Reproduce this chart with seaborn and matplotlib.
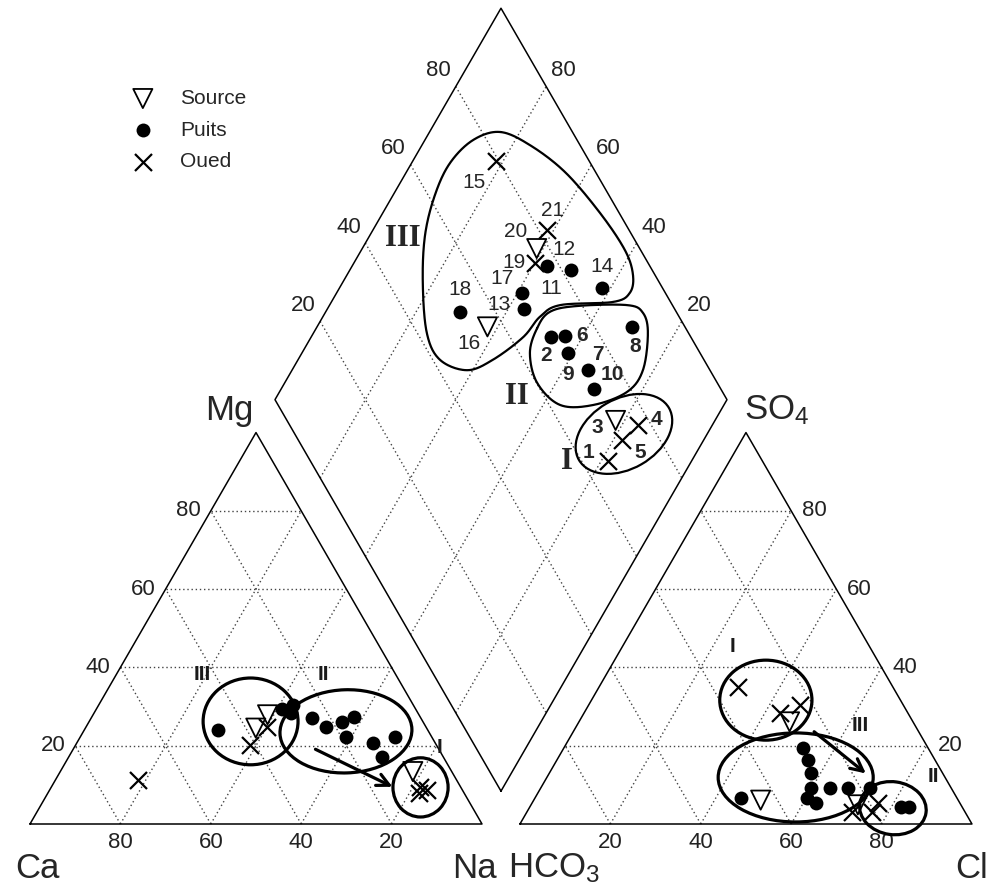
import numpy as np
import pandas as pd
import matplotlib
matplotlib.use("Agg")
import matplotlib.pyplot as plt
import seaborn as sns
from matplotlib.patches import Ellipse

sns.set_theme(style="white")
plt.rcParams["font.family"] = ["Liberation Sans", "DejaVu Sans"]
plt.rcParams["mathtext.default"] = "regular"

# ---------------- data (percent of meq) ----------------
sample_id = list(range(1, 22))
sample_type = ["Oued", "Puits", "Source", "Oued", "Oued", "Puits", "Puits", "Puits",
               "Puits", "Puits", "Puits", "Puits", "Puits", "Puits", "Oued", "Source",
               "Puits", "Puits", "Oued", "Source", "Oued"]
mg_pct = [9.5, 24.9, 13.4, 8.7, 8.0, 26.1, 20.6, 22.3, 22.3, 17.2, 30.4,
          27.0, 28.3, 27.4, 11.2, 24.5, 29.5, 24.0, 24.9, 27.9, 20.2]
na_pct = [81.5, 53.1, 78.0, 83.5, 82.0, 56.0, 65.5, 69.7, 58.8, 69.3, 43.0,
          48.8, 43.6, 58.0, 18.3, 37.7, 41.0, 29.6, 40.0, 38.6, 38.5]
so4_pct = [35.0, 9.1, 26.1, 30.4, 28.3, 19.4, 9.1, 4.4, 13.0, 16.4, 9.1,
           9.1, 6.6, 4.4, 3.0, 6.1, 5.3, 6.6, 3.0, 4.9, 5.3]
hco3_pct = [34.2, 31.0, 27.3, 22.9, 28.4, 27.7, 26.8, 11.7, 29.2, 28.0, 22.8,
            18.0, 33.3, 13.4, 20.6, 43.7, 31.8, 47.9, 25.0, 22.8, 18.2]
bold_ids = [1, 2, 3, 4, 5, 6, 7, 8, 9, 10]
tick_values = [20, 40, 60, 80]
legend_order = ["Source", "Puits", "Oued"]

# ---------------- geometry ----------------
G = 8.4                      # gap between triangles (data units, side = 100)
S = np.sqrt(3) / 2
PX = 4.52                    # pixels per data unit


def cat_xy(mg, na):
    mg = np.asarray(mg, float); na = np.asarray(na, float)
    return na + mg / 2, mg * S


def an_xy(so4, cl):
    so4 = np.asarray(so4, float); cl = np.asarray(cl, float)
    return 100 + G + cl + so4 / 2, so4 * S


def dia_xy(na, hco3):
    na = np.asarray(na, float); hco3 = np.asarray(hco3, float)
    t = 200 + G - hco3 - na
    return na + t / 2, S * t


df = pd.DataFrame({"id": sample_id, "type": sample_type, "Mg": mg_pct, "Na": na_pct,
                   "SO4": so4_pct, "HCO3": hco3_pct})
df["Ca"] = 100 - df["Mg"] - df["Na"]
df["Cl"] = 100 - df["SO4"] - df["HCO3"]
df["cx"], df["cy"] = cat_xy(df["Mg"], df["Na"])
df["ax"], df["ay"] = an_xy(df["SO4"], df["Cl"])
df["dx"], df["dy"] = dia_xy(df["Na"], df["HCO3"])

pts = pd.concat([
    df[["id", "type", "cx", "cy"]].rename(columns={"cx": "x", "cy": "y"}),
    df[["id", "type", "ax", "ay"]].rename(columns={"ax": "x", "ay": "y"}),
    df[["id", "type", "dx", "dy"]].rename(columns={"dx": "x", "dy": "y"}),
], ignore_index=True)

# ---------------- figure ----------------
fig = plt.figure(figsize=(9.92, 8.9), dpi=100)
ax = fig.add_axes([0, 0, 1, 1])
ax.set_xlim(-30 / PX, (992 - 30) / PX)
ax.set_ylim(-66 / PX, (890 - 66) / PX)
ax.axis("off")

grid_kw = dict(color="#444444", lw=1.0, ls=(0, (1, 2)), zorder=1)
edge_kw = dict(color="black", lw=1.1, zorder=2)

for v in tick_values:
    # cation triangle
    ax.plot([v / 2, 100 - v / 2], [v * S, v * S], **grid_kw)
    ax.plot([v, v + (100 - v) / 2], [0, (100 - v) * S], **grid_kw)
    ax.plot([100 - v, (100 - v) / 2], [0, (100 - v) * S], **grid_kw)
    # anion triangle
    o = 100 + G
    ax.plot([o + v / 2, o + 100 - v / 2], [v * S, v * S], **grid_kw)
    ax.plot([o + v, o + v + (100 - v) / 2], [0, (100 - v) * S], **grid_kw)
    ax.plot([o + 100 - v, o + (100 - v) / 2], [0, (100 - v) * S], **grid_kw)
    # diamond
    x1, y1 = dia_xy(v, 100); x2, y2 = dia_xy(v, 0)
    ax.plot([x1, x2], [y1, y2], **grid_kw)
    x1, y1 = dia_xy(0, v); x2, y2 = dia_xy(100, v)
    ax.plot([x1, x2], [y1, y2], **grid_kw)

ax.plot([0, 100, 50, 0], [0, 0, 100 * S, 0], **edge_kw)
ax.plot([100 + G, 200 + G, 150 + G, 100 + G], [0, 0, 100 * S, 0], **edge_kw)
dv = [dia_xy(100, 100), dia_xy(0, 100), dia_xy(0, 0), dia_xy(100, 0), dia_xy(100, 100)]
ax.plot([p[0] for p in dv], [p[1] for p in dv], **edge_kw)

# tick labels
tfs = 16
tcol = "#222222"
for v in tick_values:
    ax.text(100 - v, -19 / PX, str(v), ha="center", va="center", fontsize=tfs, color=tcol)
    ax.text(100 + G + v, -19 / PX, str(v), ha="center", va="center", fontsize=tfs, color=tcol)
    ax.annotate(str(v), (v / 2, v * S), xytext=(-10, 0), textcoords="offset pixels",
                ha="right", va="center", fontsize=tfs, color=tcol)
    ax.annotate(str(v), (200 + G - v / 2, v * S), xytext=(11, 0), textcoords="offset pixels",
                ha="left", va="center", fontsize=tfs, color=tcol)
    ax.annotate(str(v), dia_xy(0, 100 - v), xytext=(-17, 16), textcoords="offset pixels",
                ha="center", va="center", fontsize=tfs, color=tcol)
    ax.annotate(str(v), dia_xy(100 - v, 0), xytext=(17, 16), textcoords="offset pixels",
                ha="center", va="center", fontsize=tfs, color=tcol)

# axis names
afs = 25
ax.text(7 / PX, -44 / PX, "Ca", ha="center", va="center", fontsize=afs)
ax.text(100 - 8 / PX, -44 / PX, "Na", ha="center", va="center", fontsize=afs)
ax.text(100 + G - 12 / PX, -44 / PX, "HCO$_3$", ha="left", va="center", fontsize=afs)
ax.text(200 + G, -44 / PX, "Cl", ha="center", va="center", fontsize=afs)
ax.text(50 - 27 / PX, 100 * S + 22 / PX, "Mg", ha="center", va="center", fontsize=afs)
ax.text(150 + G - 2 / PX, 100 * S + 22 / PX, "SO$_4$", ha="left", va="center", fontsize=afs)

# ---------------- data markers (seaborn) ----------------
sub = pts[pts["type"] == "Puits"]
sns.scatterplot(data=sub, x="x", y="y", ax=ax, marker="o", s=100, color="black",
                edgecolor="black", linewidth=0, label="Puits", zorder=5, legend=False)
h_puits = ax.collections[-1]
sub = pts[pts["type"] == "Oued"]
sns.scatterplot(data=sub, x="x", y="y", ax=ax, marker="x", s=150, color="black",
                linewidth=1.6, label="Oued", zorder=5, legend=False)
h_oued = ax.collections[-1]
sub = pts[pts["type"] == "Source"]
sns.scatterplot(data=sub, x="x", y="y", ax=ax, marker="v", s=190, color="black",
                linewidth=1.3, label="Source", zorder=5, legend=False)
h_src = ax.collections[-1]
h_src.set_facecolor("none")
h_src.set_edgecolor("black")

handles = {"Source": h_src, "Puits": h_puits, "Oued": h_oued}
leg = ax.legend([handles[k] for k in legend_order], legend_order, loc="upper left",
                bbox_to_anchor=(122 / 992, 1 - 89 / 890), bbox_transform=fig.transFigure,
                frameon=False, fontsize=15, borderpad=0, borderaxespad=0,
                handlelength=2.0, handletextpad=0.8, labelspacing=0.6)

# sample numbers in diamond
lbl_off = {1: (-19, -9), 2: (-5, 18), 3: (-18, 7), 4: (18, -5), 5: (18, 12), 6: (17, 0),
           7: (9, -15), 8: (3, 20), 9: (0, 22), 10: (18, -15), 11: (5, 23), 12: (-7, -20),
           13: (-25, -5), 14: (0, -21), 15: (-22, 22), 16: (-18, 17), 17: (-20, -15),
           18: (0, -22), 19: (-21, 0), 20: (-21, -17), 21: (6, -20)}
for _, r in df.iterrows():
    i = int(r["id"])
    ox, oy = lbl_off[i]
    ax.annotate(str(i), (r["dx"], r["dy"]), xytext=(ox, -oy), textcoords="offset pixels",
                ha="center", va="center", fontsize=15,
                fontweight="bold" if i in bold_ids else "normal", zorder=6)


# ---------------- group envelopes ----------------
def closed_spline(p, n=24):
    p = np.asarray(p, float); N = len(p); out = []
    t = np.linspace(0, 1, n, endpoint=False)[:, None]
    for i in range(N):
        p0, p1, p2, p3 = p[(i - 1) % N], p[i], p[(i + 1) % N], p[(i + 2) % N]
        out.append(0.5 * (2 * p1 + (-p0 + p2) * t + (2 * p0 - 5 * p1 + 4 * p2 - p3) * t ** 2
                          + (-p0 + 3 * p1 - 3 * p2 + p3) * t ** 3))
    out = np.vstack(out)
    return np.vstack([out, out[:1]])


env3 = [(104.0, 153.1), (98.0, 151.3), (92.9, 146.2), (89.6, 139.2), (87.4, 130.3),
        (86.9, 119.7), (87.8, 108.6), (90.7, 102.7), (96.7, 100.4), (102.4, 102.7),
        (109.1, 107.7), (112.8, 112.2), (117.3, 114.8), (129.0, 115.5), (132.7, 117.5),
        (133.4, 121.5), (131.6, 127.0), (126.1, 135.2), (118.4, 144.2), (110.6, 150.2)]
env2 = [(112.2, 109.7), (115.0, 113.3), (121.0, 114.6), (132.1, 114.8), (135.6, 113.1),
        (136.7, 108.6), (135.6, 100.4), (132.1, 95.6), (124.6, 92.7), (117.3, 92.7),
        (112.2, 97.6), (110.6, 104.2)]
for env in (env3, env2):
    c = closed_spline(env)
    ax.plot(c[:, 0], c[:, 1], color="black", lw=1.6, zorder=3)
ax.add_patch(Ellipse((131.4, 86.3), 23.0, 15.5, angle=30, fill=False, lw=1.6, ec="black", zorder=3))

ell_kw = dict(fill=False, lw=2.3, ec="black", zorder=4)
ax.add_patch(Ellipse((48.8, 22.7), 21.0, 19.2, **ell_kw))
ax.add_patch(Ellipse((69.9, 20.5), 29.2, 18.4, angle=2, **ell_kw))
ax.add_patch(Ellipse((86.4, 8.1), 12.2, 13.1, **ell_kw))
ax.add_patch(Ellipse((162.8, 27.4), 20.4, 17.7, **ell_kw))
ax.add_patch(Ellipse((169.4, 10.3), 34.3, 19.7, **ell_kw))
ax.add_patch(Ellipse((190.9, 3.5), 14.8, 11.7, angle=-8, **ell_kw))

arr_kw = dict(arrowstyle="->", lw=2.3, color="black", mutation_scale=22)
ax.annotate("", xy=(80.75, 7.96), xytext=(62.6, 16.8), arrowprops=arr_kw, zorder=4)
ax.annotate("", xy=(185.4, 10.8), xytext=(173.0, 20.8), arrowprops=arr_kw, zorder=4)

# group roman numerals
rs = dict(fontsize=15, fontweight="bold", color="#1a1a1a", ha="center", va="center")
ax.text(38.1, 33.0, "III", **rs)
ax.text(64.8, 33.0, "II", **rs)
ax.text(90.7, 17.0, "I", **rs)
ax.text(155.5, 39.2, "I", **rs)
ax.text(183.6, 21.9, "III", **rs)
ax.text(199.8, 10.4, "II", **rs)
ser = dict(fontsize=22, fontweight="bold", family=["Liberation Serif", "DejaVu Serif"],
           ha="center", va="center")
ax.text(82.5, 129.6, "III", **ser)
ax.text(107.7, 94.5, "II", **ser)
ax.text(118.8, 80.1, "I", **ser)

fig.savefig("out.png", dpi=100)
